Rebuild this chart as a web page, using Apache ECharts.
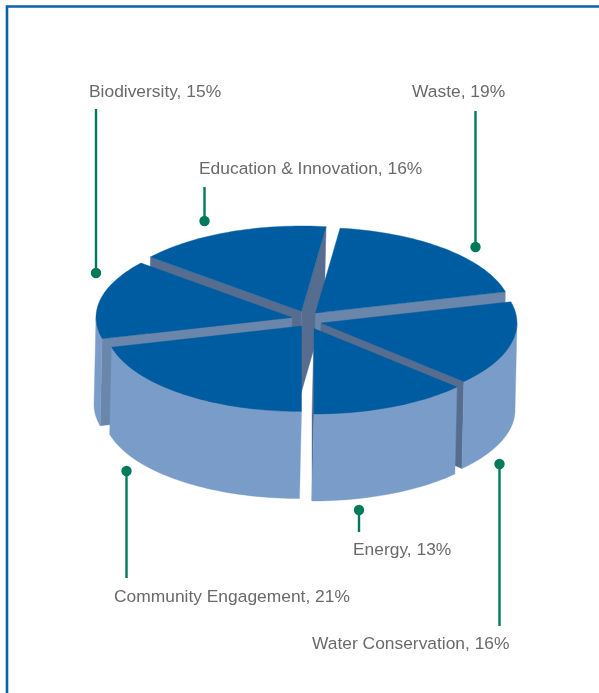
<!DOCTYPE html>
<html>
<head>
<meta charset="utf-8">
<style>html,body{margin:0;padding:0;background:#fff}#c{width:599px;height:693px}</style>
<script src="https://cdn.jsdelivr.net/npm/echarts@6/dist/echarts.min.js"></script>
</head>
<body>
<div id="c"></div>
<script>
// Pie order, clockwise from the start angle
const categories = ['Waste', 'Water Conservation', 'Energy', 'Community Engagement', 'Biodiversity', 'Education & Innovation'];
const values = [19, 16, 13, 21, 15, 16];
const startAngleDeg = 7.2;

// Projection of the disc
const cx = 306, cy = 320, rx = 196, ry = 85.5;
const depthX = -2, depthY = 87;
// How far each slice is pulled out of the pie, per category
const explodeOffsets = [[9.5, -7], [15, 3], [8, 8.5], [-4.5, 6], [-14, -2.5], [-4.5, -8.5]];

const colors = { top: '#005ca1', wall: '#7a9cc9', faceDark: '#566d8f', faceLight: '#6a86ab', leader: '#007a5a', text: '#6a6a6a', frame: '#0a63a8' };

// Label and leader annotations: [category index, text x, text y, line x, line far end y, dot y]
const notes = [
  [0, 412, 92.5, 475.5, 111, 247],
  [1, 312, 644.5, 499.5, 626, 464],
  [2, 353, 550.5, 359, 532, 510],
  [3, 114, 597.5, 126.5, 578, 471],
  [4, 89, 92.5, 96, 109, 273],
  [5, 199, 169.5, 204.5, 187, 221]
];

const total = values.reduce((a, b) => a + b, 0);
const rad = d => d * Math.PI / 180;
let acc = startAngleDeg;
const slices = values.map((v, i) => {
  const a0 = acc, a1 = acc + v / total * 360;
  acc = a1;
  const mid = rad((a0 + a1) / 2);
  return { i, a0, a1, ox: cx + explodeOffsets[i][0], oy: cy + explodeOffsets[i][1], sort: -Math.cos(mid) };
});
// painter's order: far slices first
const paintOrder = slices.slice().sort((a, b) => a.sort - b.sort);

function rim(s, deg) {
  return [s.ox + Math.sin(rad(deg)) * rx, s.oy - Math.cos(rad(deg)) * ry];
}
function arcPts(s, from, to) {
  const n = Math.max(2, Math.ceil((to - from) / 1.5));
  const pts = [];
  for (let k = 0; k <= n; k++) pts.push(rim(s, from + (to - from) * k / n));
  return pts;
}
const drop = p => [p[0] + depthX, p[1] + depthY];
const poly = (points, fill) => ({ type: 'polygon', shape: { points }, style: { fill, stroke: fill, lineWidth: 0.4 } });

function renderSlice(params, api) {
  const s = paintOrder[params.dataIndex];
  const apex = [s.ox, s.oy];
  const children = [];
  [[s.a0, -1], [s.a1, 1]].forEach(([deg, side]) => {
    const r = rim(s, deg);
    const ex = r[0] - apex[0], ey = r[1] - apex[1];
    if ((ex * depthY - ey * depthX) * side > 0) {
      const light = Math.abs(Math.sin(rad(deg))) > 0.9;
      children.push(poly([apex, r, drop(r), drop(apex)], light ? colors.faceLight : colors.faceDark));
    }
  });
  const w0 = Math.max(s.a0, 90), w1 = Math.min(s.a1, 270);
  if (w1 > w0) {
    const arc = arcPts(s, w0, w1);
    children.push(poly(arc.concat(arc.map(drop).reverse()), colors.wall));
  }
  children.push(poly([apex].concat(arcPts(s, s.a0, s.a1)), colors.top));
  return { type: 'group', children };
}

const noteElements = [];
notes.forEach(([idx, tx, ty, lx, ly, dy]) => {
  noteElements.push({ type: 'line', silent: true, shape: { x1: lx, y1: ly, x2: lx, y2: dy }, style: { stroke: colors.leader, lineWidth: 2.4 } });
  noteElements.push({ type: 'circle', silent: true, shape: { cx: lx, cy: dy, r: 5.2 }, style: { fill: colors.leader } });
  noteElements.push({ type: 'text', silent: true, x: tx, y: ty, style: { text: categories[idx] + ', ' + values[idx] + '%', fill: colors.text, font: '17.4px "Liberation Sans", sans-serif', textAlign: 'left', textVerticalAlign: 'middle' } });
});
noteElements.push({ type: 'polyline', silent: true, shape: { points: [[7, 693], [7, 6.5], [599, 6.5]] }, style: { stroke: colors.frame, fill: null, lineWidth: 2.6 } });

const chart = echarts.init(document.getElementById('c'), null, { width: 599, height: 693 });
chart.setOption({
  animation: false,
  backgroundColor: '#ffffff',
  graphic: { elements: noteElements },
  series: [{
    type: 'custom',
    coordinateSystem: 'none',
    silent: true,
    data: paintOrder.map(s => values[s.i]),
    renderItem: renderSlice
  }]
});
</script>
</body>
</html>
